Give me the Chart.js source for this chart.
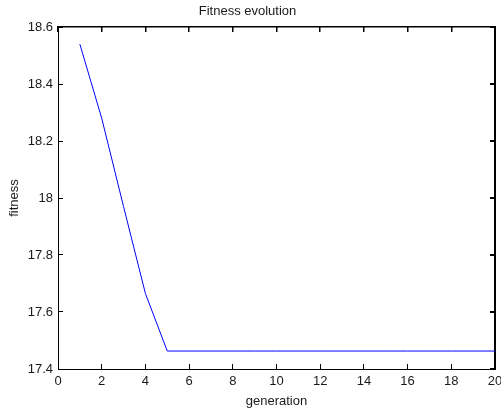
<!DOCTYPE html>
<html>
<head>
<meta charset="utf-8">
<script src="https://cdn.jsdelivr.net/npm/chart.js@4"></script>
<style>
  html, body { margin: 0; padding: 0; background: #fff; }
  #wrap { width: 501px; height: 410px; }
</style>
</head>
<body>
<div id="wrap"><canvas id="chart" width="501" height="410"></canvas></div>
<script>
// Data

const generations = [1, 2, 3, 4, 5, 6, 7, 8, 9, 10, 11, 12, 13, 14, 15, 16, 17, 18, 19, 20];
const fitness = [18.54, 18.28, 17.97, 17.665, 17.463, 17.463, 17.463, 17.463, 17.463, 17.463,
                 17.463, 17.463, 17.463, 17.463, 17.463, 17.463, 17.463, 17.463, 17.463, 17.463];
const xTicks = [0, 2, 4, 6, 8, 10, 12, 14, 16, 18, 20];
const yTicks = [17.4, 17.6, 17.8, 18, 18.2, 18.4, 18.6];

const chart = document.getElementById('chart');
const fontFamily = '"Liberation Sans", Arial, sans-serif';
const textColor = '#1a1a1a';

// Short inward tick marks, nothing across the plot

function tickGrid(len, width) {
    return {
        display: true,
        drawOnChartArea: false,
        drawTicks: true,
        tickLength: len,
        color: '#000000',
        lineWidth: width
    };
}

function axisBorder(width) {
    return { display: true, color: '#000000', width: width };
}

const data = {
    datasets: [{
        label: 'fitness',
        data: generations.map((g, i) => ({ x: g, y: fitness[i] })),
        borderColor: '#0000ff',
        borderWidth: 1,
        pointRadius: 0,
        tension: 0,
        fill: false
    }]
};

const options = {
    responsive: false,
    animation: false,
    layout: {
        padding: { left: 0, right: 6, top: 0, bottom: 0 }
    },
    plugins: {
        legend: { display: false },
        tooltip: { enabled: false },
        title: {
            display: true,
            text: 'Fitness evolution',
            color: textColor,
            font: { family: fontFamily, size: 13, weight: 'normal', lineHeight: 1.2 },
            padding: { top: 4, bottom: 7.4 }
        }
    },
    scales: {
        x: {
            type: 'linear',
            position: 'bottom',
            min: 0,
            max: 20,
            afterFit: (scale) => {
                scale.height = 41;
                scale.paddingRight = 0;
                scale.paddingLeft = 0;
            },
            afterBuildTicks: (scale) => { scale.ticks = xTicks.map(v => ({ value: v })); },
            grid: tickGrid(-5, 1),
            border: axisBorder(1),
            ticks: {
                color: textColor,
                padding: 10,
                maxRotation: 0,
                autoSkip: false,
                font: { family: fontFamily, size: 13 }
            },
            title: {
                display: true,
                text: 'generation',
                color: textColor,
                font: { family: fontFamily, size: 13, lineHeight: 1.2 },
                padding: { top: 1, bottom: 1 }
            }
        },
        x2: {
            type: 'linear',
            position: 'top',
            min: 0,
            max: 20,
            afterFit: (scale) => {
                scale.height = 0;
                scale.paddingRight = 0;
                scale.paddingLeft = 0;
            },
            afterBuildTicks: (scale) => { scale.ticks = xTicks.map(v => ({ value: v })); },
            grid: tickGrid(-5, 1.5),
            border: axisBorder(1.5),
            ticks: { display: false }
        },
        y: {
            type: 'linear',
            position: 'left',
            min: 17.4,
            max: 18.6,
            afterFit: (scale) => { scale.width = 58; },
            afterBuildTicks: (scale) => { scale.ticks = yTicks.map(v => ({ value: v })); },
            grid: tickGrid(-5, 1),
            border: axisBorder(1),
            ticks: {
                color: textColor,
                padding: 10,
                autoSkip: false,
                font: { family: fontFamily, size: 13 },
                callback: (value) => String(Number(value.toFixed(1)))
            },
            title: {
                display: true,
                text: 'fitness',
                color: textColor,
                font: { family: fontFamily, size: 13, lineHeight: 1.2 },
                padding: { top: 6.7, bottom: 6.7 }
            }
        },
        y2: {
            type: 'linear',
            position: 'right',
            min: 17.4,
            max: 18.6,
            afterFit: (scale) => {
                scale.width = 0;
                scale.paddingTop = 0;
                scale.paddingBottom = 0;
            },
            afterBuildTicks: (scale) => { scale.ticks = yTicks.map(v => ({ value: v })); },
            grid: tickGrid(-5, 2),
            border: axisBorder(2),
            ticks: { display: false }
        }
    }
};

const myChart = new Chart(chart, {
    type: 'line',
    data,
    options: options
});
</script>
</body>
</html>
